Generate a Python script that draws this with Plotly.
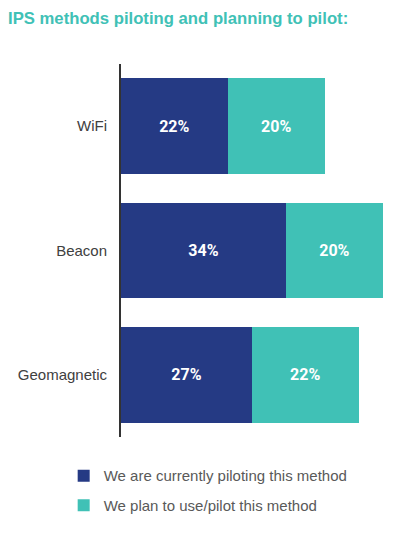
import plotly.graph_objects as go

categories = ["WiFi", "Beacon", "Geomagnetic"]
piloting = [22, 34, 27]
planning = [20, 20, 22]
series_names = ["We are currently piloting this method", "We plan to use/pilot this method"]
title_text = "IPS methods piloting and planning to pilot:"

navy = "#253a84"
teal = "#40c1b6"

fig = go.Figure()
for name, vals, col, grp in [(series_names[0], piloting, navy, "a"), (series_names[1], planning, teal, "b")]:
    fig.add_trace(go.Bar(
        y=categories, x=vals, name=name, orientation="h",
        marker=dict(color=col, line=dict(width=0)),
        text=[f"<b>{v}%</b>" for v in vals], textposition="inside", insidetextanchor="middle",
        textfont=dict(color="white", size=16, family="Roboto, Arial, sans-serif"),
        legendgroup=grp,
    ))

fig.update_layout(
    width=412, height=525,
    barmode="stack", bargap=0.23,
    margin=dict(l=113, r=8, t=56, b=96, autoexpand=False),
    plot_bgcolor="white", paper_bgcolor="white",
    title=dict(text=f"<b>{title_text}</b>", x=0.0, xref="container", xanchor="left", y=0.981, yanchor="middle",
               font=dict(color="#40c1b6", size=16.7, family="Liberation Sans, Arial, sans-serif")),
    xaxis=dict(range=[0, 60], visible=False, fixedrange=True),
    yaxis=dict(autorange=False, range=[2.5, -0.5], showline=True, linecolor="#333333", linewidth=2,
               ticks="", ticklabelstandoff=9, automargin=False,
               tickfont=dict(color="#404040", size=15, family="Liberation Sans, Arial, sans-serif")),
    legend=dict(x=-0.197, xanchor="left", y=-0.06, yanchor="top", traceorder="grouped",
                tracegroupgap=7, itemwidth=30,
                font=dict(color="#595959", size=15, family="Liberation Sans, Arial, sans-serif")),
    showlegend=True,
)

fig.write_html("out.html")
